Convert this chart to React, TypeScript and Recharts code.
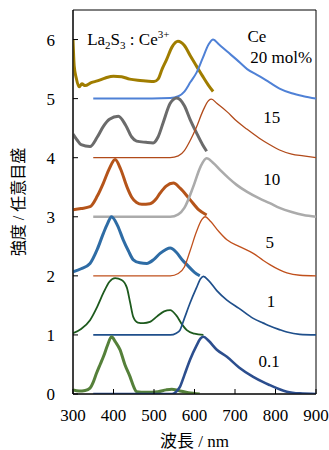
import React from "react";
import {
  LineChart,
  Line,
  XAxis,
  YAxis,
  ReferenceArea,
  ReferenceDot,
} from "recharts";

const SERIF = "'Times New Roman', 'Liberation Serif', 'Noto Sans CJK JP', serif";
const TXT = { fontFamily: SERIF };

// wavelength (nm), intensity incl. vertical offset
const exc20 = [[300, 6.0], [303, 5.55], [308, 5.35], [315, 5.2], [322, 5.25], [330, 5.22], [345, 5.27], [360, 5.3], [380, 5.35], [400, 5.38], [420, 5.37], [440, 5.33], [460, 5.31], [480, 5.3], [500, 5.29], [510, 5.33], [520, 5.5], [531, 5.66], [545, 5.88], [559, 5.97], [575, 5.9], [590, 5.72], [605, 5.55], [620, 5.38], [635, 5.22], [646, 5.12]];
const em20 = [[350, 5.0], [450, 5.0], [540, 5.01], [560, 5.04], [575, 5.12], [590, 5.28], [605, 5.44], [620, 5.68], [635, 5.92], [646, 6.0], [660, 5.92], [680, 5.8], [704, 5.66], [730, 5.5], [760, 5.38], [786, 5.27], [810, 5.17], [840, 5.09], [869, 5.04], [900, 5.0]];
const exc15 = [[300, 4.4], [310, 4.3], [320, 4.22], [342, 4.19], [360, 4.35], [375, 4.53], [390, 4.65], [412, 4.7], [430, 4.55], [445, 4.35], [457, 4.28], [480, 4.26], [498, 4.25], [510, 4.35], [523, 4.6], [540, 4.92], [556, 5.01], [575, 4.88], [589, 4.65], [605, 4.42], [620, 4.22], [630, 4.11]];
const em15 = [[350, 4.0], [540, 4.0], [560, 4.03], [575, 4.12], [590, 4.3], [605, 4.52], [620, 4.78], [635, 4.97], [642, 4.99], [655, 4.92], [680, 4.78], [704, 4.62], [730, 4.48], [760, 4.33], [786, 4.22], [810, 4.13], [840, 4.06], [869, 4.03], [900, 4.0]];
const exc10 = [[300, 3.12], [320, 3.14], [342, 3.17], [360, 3.35], [375, 3.57], [390, 3.82], [404, 3.97], [418, 3.8], [433, 3.51], [445, 3.33], [457, 3.24], [470, 3.21], [490, 3.22], [505, 3.3], [515, 3.4], [530, 3.52], [548, 3.57], [565, 3.48], [589, 3.29], [610, 3.12], [630, 3.03]];
const em10 = [[350, 3.0], [540, 3.0], [560, 3.04], [575, 3.15], [597, 3.51], [615, 3.85], [630, 3.99], [645, 3.92], [665, 3.78], [685, 3.65], [704, 3.54], [730, 3.42], [760, 3.31], [786, 3.23], [810, 3.15], [840, 3.08], [869, 3.03], [900, 3.0]];
const exc5 = [[300, 2.07], [320, 2.12], [342, 2.21], [360, 2.45], [375, 2.72], [385, 2.88], [395, 3.0], [410, 2.85], [424, 2.61], [437, 2.42], [449, 2.27], [465, 2.22], [482, 2.21], [500, 2.28], [515, 2.38], [530, 2.45], [540, 2.47], [555, 2.4], [570, 2.27], [581, 2.19], [600, 2.06], [613, 2.0]];
const em5 = [[350, 2.0], [540, 2.0], [560, 2.04], [575, 2.15], [589, 2.42], [605, 2.75], [618, 2.95], [626, 3.0], [640, 2.92], [660, 2.75], [680, 2.61], [710, 2.5], [745, 2.38], [770, 2.26], [786, 2.19], [810, 2.1], [828, 2.05], [860, 2.01], [900, 2.0]];
const exc1 = [[300, 1.03], [320, 1.1], [342, 1.25], [360, 1.48], [375, 1.71], [390, 1.9], [404, 1.96], [420, 1.93], [433, 1.8], [441, 1.55], [449, 1.3], [460, 1.21], [474, 1.2], [490, 1.22], [507, 1.31], [525, 1.4], [540, 1.42], [555, 1.33], [570, 1.17], [581, 1.08], [600, 1.02], [622, 1.0]];
const em1 = [[350, 1.0], [540, 1.0], [555, 1.03], [564, 1.08], [575, 1.28], [589, 1.54], [605, 1.8], [615, 1.95], [622, 1.99], [635, 1.92], [655, 1.75], [680, 1.59], [710, 1.45], [745, 1.28], [770, 1.2], [786, 1.15], [810, 1.09], [828, 1.05], [860, 1.01], [900, 1.0]];
const exc01 = [[300, 0.07], [315, 0.05], [330, 0.06], [342, 0.1], [350, 0.2], [358, 0.35], [367, 0.5], [375, 0.63], [385, 0.82], [395, 0.97], [405, 0.88], [416, 0.75], [428, 0.5], [441, 0.29], [450, 0.12], [457, 0.04], [480, 0.03], [510, 0.04], [530, 0.07], [544, 0.08], [560, 0.06], [585, 0.02], [613, 0.0]];
const em01 = [[350, 0.0], [545, 0.0], [555, 0.04], [564, 0.12], [575, 0.32], [589, 0.58], [605, 0.82], [615, 0.94], [622, 0.97], [635, 0.9], [655, 0.75], [680, 0.63], [710, 0.45], [745, 0.29], [770, 0.2], [786, 0.15], [810, 0.08], [828, 0.04], [860, 0.01], [900, 0.0]];

const xTicks = [300, 400, 500, 600, 700, 800, 900];
const yTicks = [0, 1, 2, 3, 4, 5, 6];

// concentration labels: text, x (nm), y (baseline value)
const labelTexts = ["Ce", "20 mol%", "15", "10", "5", "1", "0.1"];
const labelXs = [754, 814, 791, 791, 786, 789, 784];
const labelYs = [5.95, 5.61, 4.59, 3.54, 2.47, 1.47, 0.46];

const series = [
  { key: "exc20", pts: exc20, color: "#A07D00", width: 3 },
  { key: "em20", pts: em20, color: "#4F81D6", width: 2 },
  { key: "exc15", pts: exc15, color: "#6B6B6B", width: 3 },
  { key: "em15", pts: em15, color: "#B14A1A", width: 1.3 },
  { key: "exc10", pts: exc10, color: "#B5541A", width: 3 },
  { key: "em10", pts: em10, color: "#ABABAB", width: 2.6 },
  { key: "exc5", pts: exc5, color: "#2E6CA5", width: 3 },
  { key: "em5", pts: em5, color: "#C0501C", width: 1.3 },
  { key: "exc1", pts: exc1, color: "#1D5A1D", width: 1.8 },
  { key: "em1", pts: em1, color: "#1F4F8B", width: 1.7 },
  { key: "exc01", pts: exc01, color: "#55803A", width: 3 },
  { key: "em01", pts: em01, color: "#2C4E8E", width: 2.6 },
];

const toPts = (arr: number[][]) => arr.map(([x, y]) => ({ x, y }));

const XTick = ({ x, y, payload }: any) => (
  <g>
    <line x1={x} x2={x} y1={y} y2={y - 5} stroke="#000" />
    <text x={x} y={y + 27} textAnchor="middle" style={TXT} fontSize={17} fill="#000">
      {payload.value}
    </text>
  </g>
);

const YTick = ({ x, y, payload }: any) => (
  <g>
    <line x1={x} x2={x + 5} y1={y} y2={y} stroke="#000" />
    <text x={x - 18} y={y + 6} textAnchor="end" style={TXT} fontSize={17} fill="#000">
      {payload.value}
    </text>
  </g>
);

const YTitle = ({ viewBox }: any) => {
  const cx = 18;
  const cy = viewBox.y + viewBox.height / 2;
  return (
    <text x={cx} y={cy} transform={`rotate(-90, ${cx}, ${cy})`} textAnchor="middle"
      dominantBaseline="central" style={TXT} fontSize={16} fill="#000">
      強度 / 任意目盛
    </text>
  );
};

const XTitle = ({ viewBox }: any) => (
  <text x={viewBox.x + viewBox.width / 2} y={viewBox.y + 47} textAnchor="middle"
    dominantBaseline="central" style={TXT} fontSize={17} fill="#000">
    波長 / nm
  </text>
);

const FormulaLabel = ({ viewBox }: any) => (
  <text x={viewBox.x} y={viewBox.y} style={TXT} fontSize={17} fill="#000">
    La<tspan fontSize={11} dy={4}>2</tspan>
    <tspan dy={-4}>S</tspan>
    <tspan fontSize={11} dy={4}>3</tspan>
    <tspan dy={-4}>{" : Ce"}</tspan>
    <tspan fontSize={11} dy={-7}>3+</tspan>
  </text>
);

const TextLabel = (text: string) => ({ viewBox }: any) => (
  <text x={viewBox.x} y={viewBox.y} textAnchor="middle" style={TXT} fontSize={17} fill="#000">
    {text}
  </text>
);

export default function App() {
  return (
    <div style={{ position: "absolute", left: 0, top: 0, background: "#fff" }}>
      <LineChart width={329} height={450} margin={{ top: 10, right: 13, bottom: 0, left: 0 }}>
        <XAxis
          dataKey="x"
          type="number"
          domain={[300, 900]}
          ticks={xTicks}
          allowDataOverflow
          height={56}
          tickSize={0}
          tickMargin={0}
          tick={<XTick />}
          axisLine={{ stroke: "#000" }}
          label={<XTitle />}
        />
        <YAxis
          type="number"
          domain={[0, 6.5]}
          ticks={yTicks}
          allowDataOverflow
          width={73}
          tickSize={0}
          tickMargin={0}
          tick={<YTick />}
          axisLine={{ stroke: "#000" }}
          label={<YTitle />}
        />
        <ReferenceArea x1={300} x2={900} y1={0} y2={6.5} fill="none" stroke="#000" strokeWidth={1} />
        {series.map((s) => (
          <Line
            key={s.key}
            data={toPts(s.pts)}
            dataKey="y"
            type="monotone"
            stroke={s.color}
            strokeWidth={s.width}
            dot={false}
            activeDot={false}
            isAnimationActive={false}
          />
        ))}
        <ReferenceDot x={335} y={5.915} r={0} fill="none" stroke="none" label={<FormulaLabel />} />
        {labelTexts.map((t, i) => (
          <ReferenceDot
            key={t}
            x={labelXs[i]}
            y={labelYs[i]}
            r={0}
            fill="none"
            stroke="none"
            label={TextLabel(t)}
          />
        ))}
      </LineChart>
    </div>
  );
}
